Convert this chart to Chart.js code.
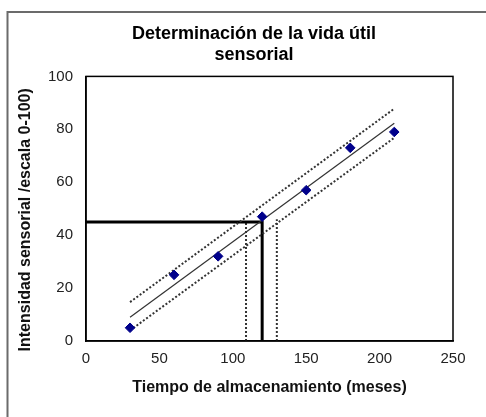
<!DOCTYPE html>
<html>
<head>
<meta charset="utf-8">
<script src="https://cdn.jsdelivr.net/npm/chart.js@4"></script>
<style>
  html, body { margin: 0; padding: 0; background: #fff; }
  #wrap { width: 486px; height: 417px; }
</style>
</head>
<body>
<div id="wrap"><canvas id="myChart" width="486" height="417"></canvas></div>
<script>
// measured points
var months = [30, 60, 90, 120, 150, 180, 210];
var intensity = [5, 25, 32, 47, 57, 73, 79];

// regression line and confidence band (end points)
var fitX = [30, 210];
var fitY = [9, 82.3];
var upperY = [14.7, 87.8];
var lowerY = [4, 76.8];

// cut-off lines
var limitY = 45;
var limitX = 120;
var limitLowX = 109;
var limitHighX = 130;

var xTicks = [0, 50, 100, 150, 200, 250];
var yTicks = [0, 20, 40, 60, 80, 100];

function pairs(xs, ys) {
    return xs.map(function (x, i) { return { x: x, y: ys[i] }; });
}

var framePlugin = {
    id: 'frame',
    beforeDraw: function (chart) {
        var c = chart.ctx;
        c.save();
        c.fillStyle = '#fff';
        c.fillRect(0, 0, chart.width, chart.height);
        c.strokeStyle = '#6b6b6b';
        c.lineWidth = 2;
        c.beginPath();
        c.moveTo(7.5, chart.height);
        c.lineTo(7.5, 12);
        c.lineTo(chart.width, 12);
        c.stroke();
        c.restore();
    },
    afterDatasetsDraw: function (chart) {
        var a = chart.chartArea;
        var c = chart.ctx;
        c.save();
        c.strokeStyle = '#000';
        c.lineWidth = 1.5;
        c.strokeRect(a.left, a.top, a.right - a.left, a.bottom - a.top);
        c.restore();
    }
};

var font = 'Arial, "Liberation Sans", sans-serif';

var ctx = document.getElementById('myChart').getContext('2d');
var myChart = new Chart(ctx, {
    type: 'scatter',
    data: {
        datasets: [
            {
                label: 'Datos',
                data: pairs(months, intensity),
                pointStyle: 'rectRot',
                pointRadius: 4.8,
                backgroundColor: '#00008b',
                borderColor: '#00008b',
                order: 0
            },
            {
                label: 'Ajuste',
                data: pairs(fitX, fitY),
                showLine: true,
                pointRadius: 0,
                borderColor: '#333',
                borderWidth: 1.2
            },
            {
                label: 'Superior',
                data: pairs(fitX, upperY),
                showLine: true,
                pointRadius: 0,
                borderColor: '#333',
                borderWidth: 2,
                borderDash: [2, 2]
            },
            {
                label: 'Inferior',
                data: pairs(fitX, lowerY),
                showLine: true,
                pointRadius: 0,
                borderColor: '#333',
                borderWidth: 2,
                borderDash: [2, 2]
            },
            {
                label: 'Limite',
                data: [{ x: 0, y: limitY }, { x: limitX, y: limitY }, { x: limitX, y: 0 }],
                showLine: true,
                pointRadius: 0,
                borderColor: '#000',
                borderWidth: 3
            },
            {
                label: 'Limite inferior',
                data: [{ x: limitLowX, y: 0 }, { x: limitLowX, y: limitY }],
                showLine: true,
                pointRadius: 0,
                borderColor: '#333',
                borderWidth: 2,
                borderDash: [2, 2]
            },
            {
                label: 'Limite superior',
                data: [{ x: limitHighX, y: 0 }, { x: limitHighX, y: limitY + 1 }],
                showLine: true,
                pointRadius: 0,
                borderColor: '#333',
                borderWidth: 2,
                borderDash: [2, 2]
            }
        ]
    },
    options: {
        responsive: false,
        animation: false,
        layout: {
            padding: { left: 18, right: -4, top: 15, bottom: 0 }
        },
        plugins: {
            legend: { display: false },
            tooltip: { enabled: false },
            title: {
                display: true,
                text: ['Determinación de la vida útil', 'sensorial'],
                color: '#000',
                font: { family: font, size: 18, weight: 'bold', lineHeight: 1.15 },
                padding: { top: 9, bottom: 11 }
            }
        },
        scales: {
            x: {
                type: 'linear',
                min: 0,
                max: 250,
                afterBuildTicks: function (s) { s.ticks = xTicks.map(function (v) { return { value: v }; }); },
                afterFit: function (s) { s.height = 76; },
                grid: { display: false, drawTicks: true, tickLength: 5, tickColor: '#000' },
                border: { display: true, color: '#000', width: 1.5 },
                ticks: {
                    color: '#222',
                    padding: 4,
                    font: { family: font, size: 15 }
                },
                title: {
                    display: true,
                    text: 'Tiempo de almacenamiento (meses)',
                    color: '#111',
                    font: { family: font, size: 16, weight: 'bold' },
                    padding: { top: 0, bottom: 20 }
                }
            },
            y: {
                type: 'linear',
                min: 0,
                max: 100,
                afterBuildTicks: function (s) { s.ticks = yTicks.map(function (v) { return { value: v }; }); },
                afterFit: function (s) { s.width = 86 - 18; },
                grid: { display: false, drawTicks: true, tickLength: 6, tickColor: '#000' },
                border: { display: true, color: '#000', width: 1.5 },
                ticks: {
                    color: '#222',
                    padding: 7,
                    font: { family: font, size: 15 }
                },
                title: {
                    display: true,
                    text: 'Intensidad sensorial /escala 0-100)     ',
                    color: '#111',
                    font: { family: font, size: 16, weight: 'bold' },
                    padding: { top: -2, bottom: 0 }
                }
            },
            y2: {
                type: 'linear',
                position: 'right',
                display: true,
                afterFit: function (s) { s.width = 486 + 4 - 453; },
                grid: { display: false, drawTicks: false },
                border: { display: false },
                ticks: { display: false }
            }
        }
    },
    plugins: [framePlugin]
});
</script>
</body>
</html>
